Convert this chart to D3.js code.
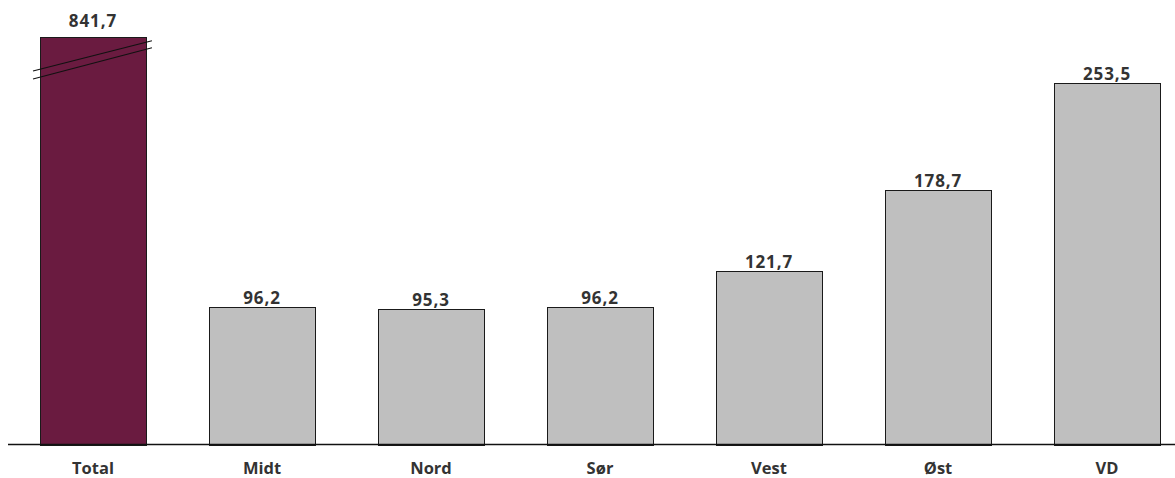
<!DOCTYPE html>
<html>
<head>
<meta charset="utf-8">
<script src="https://cdn.jsdelivr.net/npm/d3@7"></script>
<style>
  html, body { margin: 0; padding: 0; background: #fff; }
  svg { display: block; }
  text { font-family: "Open Sans", "DejaVu Sans", sans-serif; font-weight: 700; fill: #333; }
</style>
</head>
<body>
<svg id="chart" width="1175" height="478"></svg>
<script>
const categories = ["Total", "Midt", "Nord", "Sør", "Vest", "Øst", "VD"];
const values = [841.7, 96.2, 95.3, 96.2, 121.7, 178.7, 253.5];
const valueLabels = ["841,7", "96,2", "95,3", "96,2", "121,7", "178,7", "253,5"];
// Value where the axis is broken; taller bars are cut off there
const axisBreak = 286;

const W = 1175, H = 478;
const baseY = 444.5, topY = 36.5;

const svg = d3.select("#chart");

const x = d3.scaleBand()
  .domain(categories)
  .range([40, 1160])
  .paddingInner(0.373)
  .paddingOuter(0);

const y = d3.scaleLinear()
  .domain([0, axisBreak])
  .range([baseY, topY])
  .clamp(true);

const data = categories.map((c, i) => ({ cat: c, value: values[i], label: valueLabels[i] }));

// Bars
svg.append("g").selectAll("rect")
  .data(data)
  .join("rect")
  .attr("x", d => Math.round(x(d.cat)) + 0.5)
  .attr("y", d => Math.round(y(d.value)) + 0.5)
  .attr("width", Math.round(x.bandwidth()))
  .attr("height", d => Math.round(baseY) - Math.round(y(d.value)))
  .attr("fill", (d, i) => i === 0 ? "#6a1b40" : "#bfbfbf")
  .attr("stroke", "#1a1a1a")
  .attr("stroke-width", 1);

// Break marks across the clipped bar
const broken = data.filter(d => d.value > axisBreak);
const breakG = svg.append("g");
broken.forEach(d => {
  const x0 = x(d.cat) - 7, x1 = x(d.cat) + x.bandwidth() + 6;
  [[71, 40.7], [79, 47.7]].forEach(([ya, yb]) => {
    breakG.append("line")
      .attr("x1", x0).attr("y1", ya)
      .attr("x2", x1).attr("y2", yb)
      .attr("stroke", "#111")
      .attr("stroke-width", 1.1);
  });
});

// Value labels
svg.append("g").selectAll("text")
  .data(data)
  .join("text")
  .attr("x", d => x(d.cat) + x.bandwidth() / 2)
  .attr("y", d => y(d.value) - (d.value > axisBreak ? 9.5 : 3))
  .attr("text-anchor", "middle")
  .attr("font-size", 17)
  .attr("letter-spacing", 0.9)
  .text(d => d.label);

// Baseline axis
const xAxis = d3.axisBottom(x).tickSize(0).tickPadding(18);
const axisG = svg.append("g")
  .attr("transform", `translate(0,${baseY})`)
  .call(xAxis);
axisG.select(".domain").remove();
axisG.selectAll("text")
  .attr("font-size", 16.5)
  .attr("font-family", "\"Open Sans\", sans-serif")
  .attr("font-weight", 700)
  .attr("fill", "#333");
svg.append("line")
  .attr("x1", 8).attr("x2", W)
  .attr("y1", baseY).attr("y2", baseY)
  .attr("stroke", "#111")
  .attr("stroke-width", 1.5);
</script>
</body>
</html>
